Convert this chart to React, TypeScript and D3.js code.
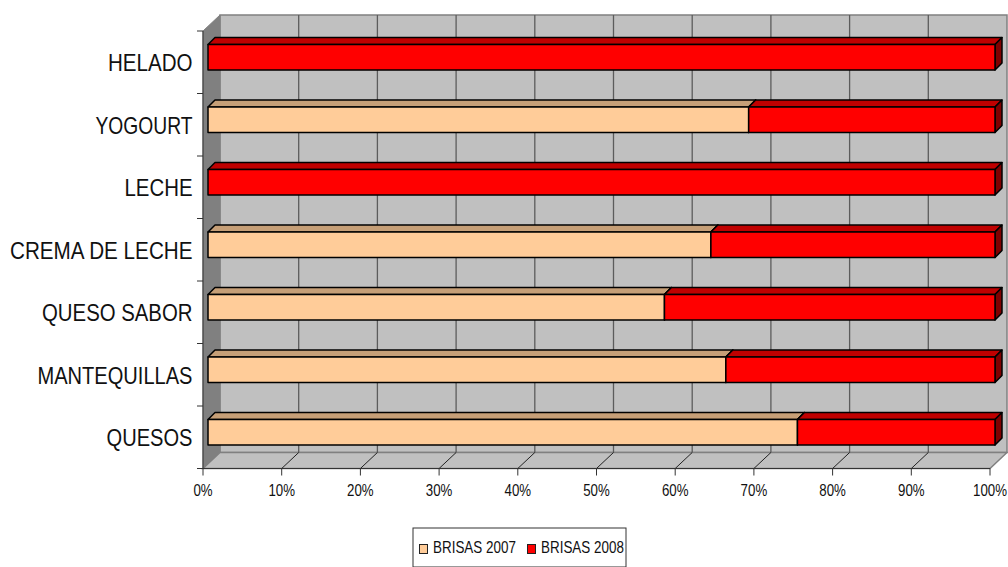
import React from "react";
import * as d3 from "d3";

const categories = ["HELADO", "YOGOURT", "LECHE", "CREMA DE LECHE", "QUESO SABOR", "MANTEQUILLAS", "QUESOS"];
const brisas2007 = [0, 68.7, 0, 63.9, 58, 65.8, 74.9];
const brisas2008 = [100, 31.3, 100, 36.1, 42, 34.2, 25.1];
const seriesNames = ["BRISAS 2007", "BRISAS 2008"];
const xTicks = [0, 10, 20, 30, 40, 50, 60, 70, 80, 90, 100];

// Set widths for the condensed category captions, in the order of `categories`.
const captionWidths = [84.5, 97, 68, 182.5, 150.5, 155, 86];

const faceColors = [
  { front: "#FFCC99", top: "#C69F77", side: "#806650" },
  { front: "#FF0000", top: "#C00000", side: "#800000" },
];

const W = 1008;
const H = 567;
const DEPTH_X = 17;
const DEPTH_Y = 16;
const BAR_SHIFT = 5;
const BAR_DEPTH = 7;
const FONT = "'Liberation Sans', Arial, sans-serif";
const INK = "#111";

const x = d3.scaleLinear().domain([0, 100]).range([203, 990]);
const y = d3.scaleBand<string>().domain(categories).range([31, 468.5]).paddingInner(0.59).paddingOuter(0.295);
const yEdges = d3.range(categories.length + 1).map((i) => 31 + (i * (468.5 - 31)) / categories.length);

const rows = categories.map((category, i) => ({ category, a: brisas2007[i], b: brisas2008[i] }));
const stacked = d3.stack<{ category: string; a: number; b: number }>().keys(["a", "b"])(rows);

const poly = (pts: [number, number][]) => pts.map((p) => p.join(",")).join(" ");
// Condensed look for text: squeeze horizontally around the anchor point.
const squeeze = (ax: number, k: number) => `translate(${ax},0) scale(${k},1) translate(${-ax},0)`;

export default function App() {
  const [x0, x1] = x.range();
  const yTop = 31;
  const yBot = 468.5;
  const barH = y.bandwidth();

  return (
    <svg
      width={W}
      height={H}
      viewBox={`0 0 ${W} ${H}`}
      style={{ position: "absolute", left: 0, top: 0, display: "block", background: "#fff" }}
    >
      {/* chart box: back wall, side wall, floor */}
      <rect x={x0 + DEPTH_X} y={yTop - DEPTH_Y} width={x1 - x0} height={yBot - yTop} fill="#C0C0C0" stroke="#808080" strokeWidth={1.5} />
      <polygon
        points={poly([[x0, yTop], [x0 + DEPTH_X, yTop - DEPTH_Y], [x0 + DEPTH_X, yBot - DEPTH_Y], [x0, yBot]])}
        fill="#808080"
        stroke="#808080"
      />
      <polygon
        points={poly([[x0, yBot], [x0 + DEPTH_X, yBot - DEPTH_Y], [x1 + DEPTH_X, yBot - DEPTH_Y], [x1, yBot]])}
        fill="#C0C0C0"
        stroke="#808080"
        strokeWidth={1.5}
      />

      {/* gridlines on wall and floor */}
      {xTicks.slice(1, -1).map((t) => (
        <g key={t}>
          <line x1={x(t) + DEPTH_X} x2={x(t) + DEPTH_X} y1={yTop - DEPTH_Y} y2={yBot - DEPTH_Y} stroke="#5c5c5c" strokeWidth={1.3} />
          <line x1={x(t)} x2={x(t) + DEPTH_X} y1={yBot} y2={yBot - DEPTH_Y} stroke="#222" strokeWidth={1} />
        </g>
      ))}

      {/* axis lines and ticks */}
      <line x1={x0} x2={x0} y1={yTop} y2={yBot} stroke="#333" />
      <line x1={x0} x2={x1} y1={yBot} y2={yBot} stroke="#333" />
      {yEdges.map((v) => (
        <line key={v} x1={x0 - 6} x2={x0} y1={v} y2={v} stroke="#333" />
      ))}
      {xTicks.map((t) => (
        <g key={t}>
          <line x1={x(t)} x2={x(t)} y1={yBot} y2={yBot + 7} stroke="#333" />
          <text x={x(t)} y={496.5} textAnchor="middle" fontFamily={FONT} fontSize={16} fill={INK} transform={squeeze(x(t), 0.83)}>
            {t}%
          </text>
        </g>
      ))}

      {/* category labels */}
      {categories.map((c, i) => {
        const cy = (yEdges[i] + yEdges[i + 1]) / 2;
        return (
          <text
            key={c}
            x={192.5}
            y={cy + 9}
            textAnchor="end"
            fontFamily={FONT}
            fontSize={24}
            fill={INK}
            textLength={captionWidths[i]}
            lengthAdjust="spacingAndGlyphs"
          >
            {c}
          </text>
        );
      })}

      {/* stacked 3-D bars */}
      {stacked.map((layer, s) =>
        layer.map(([v0, v1], i) => {
          if (v1 - v0 <= 0) return null;
          const left = x(v0) + BAR_SHIFT;
          const right = x(v1) + BAR_SHIFT;
          const top = (y(categories[i]) as number) - BAR_SHIFT;
          const c = faceColors[s];
          return (
            <g key={`${s}-${i}`} stroke="#000" strokeWidth={1.5} strokeLinejoin="round">
              <polygon fill={c.top} points={poly([[left, top], [left + BAR_DEPTH, top - BAR_DEPTH], [right + BAR_DEPTH, top - BAR_DEPTH], [right, top]])} />
              <polygon fill={c.side} points={poly([[right, top], [right + BAR_DEPTH, top - BAR_DEPTH], [right + BAR_DEPTH, top + barH - BAR_DEPTH], [right, top + barH]])} />
              <rect x={left} y={top} width={right - left} height={barH} fill={c.front} />
            </g>
          );
        })
      )}

      {/* legend */}
      <rect x={413} y={528} width={213} height={39} fill="#fff" stroke="#333" strokeWidth={1} />
      {seriesNames.map((name, s) => {
        const sx = s === 0 ? 419.5 : 527.5;
        const tx = sx + 13.5;
        return (
          <g key={name}>
            <rect x={sx} y={544.5} width={8} height={9} fill={faceColors[s].front} stroke="#222" strokeWidth={1} />
            <text x={tx} y={553.5} fontFamily={FONT} fontSize={16} fill={INK} transform={squeeze(tx, 0.84)}>
              {name}
            </text>
          </g>
        );
      })}
    </svg>
  );
}
